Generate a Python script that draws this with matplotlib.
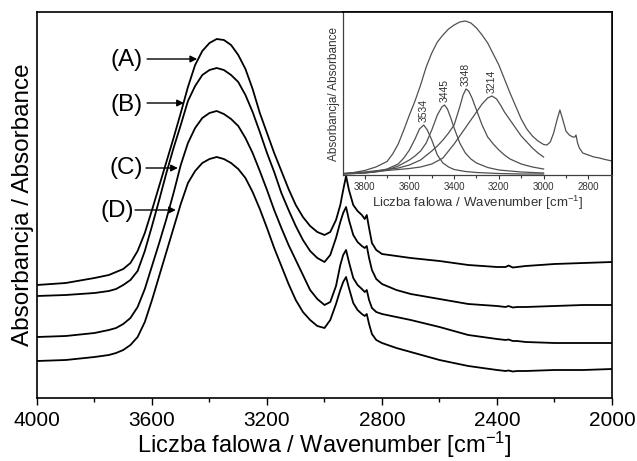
import matplotlib
matplotlib.use('Agg')
import matplotlib.pyplot as plt
from matplotlib.ticker import MultipleLocator, FixedLocator

plt.rcParams['font.family'] = ['Liberation Sans', 'DejaVu Sans']
plt.rcParams['mathtext.default'] = 'regular'

# ---------------- main spectra ----------------
wavenumber = [4000, 3900, 3800, 3750, 3725, 3700, 3675, 3650, 3625, 3600, 3575, 3550, 3525,
              3500, 3475, 3450, 3425, 3400, 3375, 3350, 3325, 3300, 3275, 3250, 3225,
              3200, 3175, 3150, 3125, 3100, 3075, 3050, 3025, 3000, 2980, 2960, 2945,
              2935, 2925, 2915, 2900, 2885, 2870, 2860, 2853, 2845, 2835, 2820, 2800,
              2750, 2700, 2600, 2500, 2400, 2370, 2360, 2345, 2330, 2300, 2200, 2100, 2000]

absorb_A = [1.13, 1.15, 1.20, 1.23, 1.26, 1.29, 1.35, 1.47, 1.65, 1.88, 2.12, 2.36, 2.60,
            2.85, 3.11, 3.33, 3.47, 3.55, 3.59, 3.58, 3.53, 3.43, 3.29, 3.09, 2.85,
            2.65, 2.45, 2.27, 2.09, 1.93, 1.81, 1.72, 1.66, 1.63, 1.66, 1.78, 1.93,
            2.08, 2.22, 2.08, 1.93, 1.87, 1.83, 1.79, 1.83, 1.70, 1.55, 1.48, 1.44,
            1.42, 1.40, 1.37, 1.33, 1.31, 1.31, 1.325, 1.305, 1.31, 1.32, 1.34, 1.35, 1.36]

absorb_B = [1.02, 1.03, 1.05, 1.07, 1.09, 1.13, 1.18, 1.27, 1.47, 1.72, 1.98, 2.25, 2.50,
            2.73, 2.97, 3.12, 3.23, 3.28, 3.30, 3.28, 3.23, 3.16, 3.03, 2.86, 2.66,
            2.45, 2.26, 2.05, 1.88, 1.72, 1.58, 1.47, 1.40, 1.36, 1.43, 1.60, 1.76,
            1.85, 1.91, 1.78, 1.63, 1.56, 1.52, 1.50, 1.52, 1.40, 1.28, 1.19, 1.14,
            1.08, 1.04, 0.99, 0.94, 0.92, 0.91, 0.92, 0.905, 0.91, 0.91, 0.92, 0.93, 0.93]

absorb_C = [0.61, 0.62, 0.65, 0.68, 0.70, 0.74, 0.80, 0.91, 1.09, 1.32, 1.55, 1.79, 2.05,
            2.33, 2.55, 2.70, 2.80, 2.85, 2.87, 2.84, 2.79, 2.72, 2.60, 2.45, 2.27,
            2.08, 1.88, 1.70, 1.53, 1.38, 1.23, 1.08, 0.99, 0.93, 0.96, 1.12, 1.33,
            1.43, 1.48, 1.36, 1.20, 1.13, 1.09, 1.06, 1.08, 0.98, 0.90, 0.86, 0.84,
            0.81, 0.78, 0.71, 0.63, 0.59, 0.58, 0.585, 0.57, 0.57, 0.56, 0.55, 0.55, 0.55]

absorb_D = [0.37, 0.38, 0.41, 0.43, 0.45, 0.48, 0.53, 0.61, 0.76, 0.98, 1.22, 1.46, 1.70,
            1.94, 2.15, 2.27, 2.35, 2.39, 2.41, 2.39, 2.35, 2.29, 2.20, 2.06, 1.89,
            1.70, 1.50, 1.32, 1.14, 0.98, 0.86, 0.78, 0.72, 0.70, 0.78, 0.94, 1.08,
            1.16, 1.21, 1.10, 0.95, 0.88, 0.84, 0.82, 0.84, 0.74, 0.64, 0.58, 0.55,
            0.50, 0.46, 0.38, 0.32, 0.28, 0.27, 0.275, 0.265, 0.27, 0.27, 0.28, 0.28, 0.29]

sample_labels = ['(A)', '(B)', '(C)', '(D)']
main_xticks = [4000, 3600, 3200, 2800, 2400, 2000]

# ---------------- inset: band deconvolution ----------------
inset_spec_wn = [3897, 3850, 3800, 3750, 3700, 3675, 3650, 3625, 3600, 3575, 3550, 3525,
                 3500, 3475, 3450, 3425, 3400, 3375, 3350, 3325, 3300, 3275, 3250, 3225,
                 3200, 3175, 3150, 3125, 3100, 3075, 3050, 3025, 3000, 2985, 2970, 2955,
                 2940, 2927, 2915, 2900, 2885, 2870, 2860, 2855, 2848, 2840, 2825, 2800,
                 2775, 2750, 2725, 2694]
inset_spec = [1, 2.5, 4.5, 8, 13.5, 21, 31, 45, 60, 74, 90, 108,
              122, 133, 140, 146, 150, 153, 154, 152, 147, 140, 132, 121,
              110, 96, 82, 69, 56, 46, 39, 34, 30.5, 30, 33, 42,
              55, 65, 56, 44, 40, 38, 38, 40, 32, 27, 22, 20,
              18, 17, 15.5, 14]

comp_3534_wn = [3897, 3800, 3750, 3700, 3650, 3625, 3600, 3575, 3555, 3536, 3520, 3500,
                3475, 3450, 3425, 3400, 3350, 3300, 3200, 3100, 3000]
comp_3534 = [1, 2, 3.5, 6, 11, 17, 25, 36, 46, 50, 45, 35,
             20, 12, 8, 5.5, 3.5, 2.5, 1.5, 1, 1]

comp_3445_wn = [3897, 3800, 3750, 3700, 3650, 3600, 3575, 3550, 3525, 3500, 3475, 3455,
                3443, 3430, 3415, 3400, 3375, 3350, 3325, 3300, 3250, 3200, 3150, 3100,
                3050, 3000]
comp_3445 = [1, 2, 3, 5, 9, 15, 19, 24, 32, 45, 60, 68,
             70, 66, 57, 47, 32, 22, 16, 12, 7.5, 5, 4, 3,
             2.5, 2]

comp_3348_wn = [3897, 3800, 3700, 3650, 3600, 3550, 3500, 3475, 3450, 3425, 3400, 3375,
                3360, 3347, 3335, 3320, 3300, 3275, 3250, 3225, 3200, 3175, 3150, 3100,
                3050, 3000]
comp_3348 = [1.5, 3, 5.5, 7, 10, 15, 24, 29, 35, 42, 50, 68,
             80, 86, 84, 77, 65, 50, 38, 31, 25, 20, 16, 11,
             8, 6]

comp_3214_wn = [3897, 3800, 3700, 3600, 3550, 3500, 3450, 3425, 3400, 3375, 3350, 3325,
                3300, 3275, 3250, 3231, 3210, 3190, 3175, 3150, 3125, 3100, 3075, 3050,
                3025, 3000]
comp_3214 = [1.5, 2.5, 4.5, 6.5, 8, 11, 17, 24, 31, 39, 47, 55,
             63, 71, 77, 79, 76, 69, 63, 55, 47, 39, 33, 27,
             22, 18]

peak_labels = ['3534', '3445', '3348', '3214']
inset_xticks = [3800, 3600, 3400, 3200, 3000, 2800]

# ---------------- figure ----------------
W, H = 637, 461
fig = plt.figure(figsize=(W / 100, H / 100), dpi=100)
ax = fig.add_axes([37 / W, 63 / H, 575 / W, 386 / H])

for vals in [absorb_A, absorb_B, absorb_C, absorb_D]:
    ax.plot(wavenumber, vals, color='black', lw=1.3)

ax.set_xlim(4000, 2000)
ax.set_ylim(0, 3.86)
ax.xaxis.set_major_locator(FixedLocator(main_xticks))
ax.xaxis.set_minor_locator(MultipleLocator(200))
ax.set_yticks([])
ax.tick_params(axis='x', which='major', direction='out', length=5, width=1.0,
               labelsize=15, pad=4)
ax.tick_params(axis='x', which='minor', direction='out', length=3, width=1.0)
for s in ax.spines.values():
    s.set_linewidth(1.2)
ax.set_xlabel('Liczba falowa / Wavenumber [cm$^{-1}$]', fontsize=17, labelpad=0)
ax.set_ylabel('Absorbancja / Absorbance', fontsize=17.5, labelpad=2)

# sample labels with arrows
label_pos = [(3690, 3.38), (3690, 2.93), (3690, 2.30), (3722, 1.87)]
arrow_pos = [((3617, 3.39), (3443, 3.39)),
             ((3617, 2.95), (3489, 2.95)),
             ((3621, 2.30), (3510, 2.30)),
             ((3659, 1.88), (3517, 1.88))]
for lab, (tx, ty), (start, end) in zip(sample_labels, label_pos, arrow_pos):
    ax.text(tx, ty, lab, ha='center', va='center', fontsize=17.5)
    ax.annotate('', xy=end, xytext=start,
                arrowprops=dict(arrowstyle='-|>', color='black', lw=1.0,
                                mutation_scale=10, shrinkA=0, shrinkB=0))

# inset
ins = fig.add_axes([343 / W, (H - 175) / H, 269 / W, 163 / H])
gray = '#505050'
ins.plot(inset_spec_wn, inset_spec, color=gray, lw=0.9)
comps = [(comp_3534_wn, comp_3534), (comp_3445_wn, comp_3445),
         (comp_3348_wn, comp_3348), (comp_3214_wn, comp_3214)]
for (cw, ch), lab in zip(comps, peak_labels):
    ins.plot(cw, ch, color=gray, lw=0.9)
    i = ch.index(max(ch))
    ins.text(cw[i], ch[i] + 3, lab, rotation=90, ha='center', va='bottom',
             fontsize=7.5, color='#333333')

ins.set_xlim(3897, 2694)
ins.set_ylim(0, 163)
ins.xaxis.set_major_locator(FixedLocator(inset_xticks))
ins.xaxis.set_minor_locator(MultipleLocator(100))
ins.set_yticks([])
ins.tick_params(axis='x', which='major', direction='out', length=3, width=0.8,
                labelsize=7, pad=2, colors='#333333')
ins.tick_params(axis='x', which='minor', direction='out', length=2, width=0.8,
                colors='#333333')
for side in ['left', 'bottom']:
    ins.spines[side].set_color('#404040')
    ins.spines[side].set_linewidth(0.9)
for side in ['top', 'right']:
    ins.spines[side].set_color('black')
    ins.spines[side].set_linewidth(1.2)
ins.set_xlabel('Liczba falowa / Wavenumber [cm$^{-1}$]', fontsize=9.5, labelpad=1,
               color='#333333')
ins.set_ylabel('Absorbancja/ Absorbance', fontsize=8.5, labelpad=2, color='#333333')

fig.savefig('out.png', dpi=100)
